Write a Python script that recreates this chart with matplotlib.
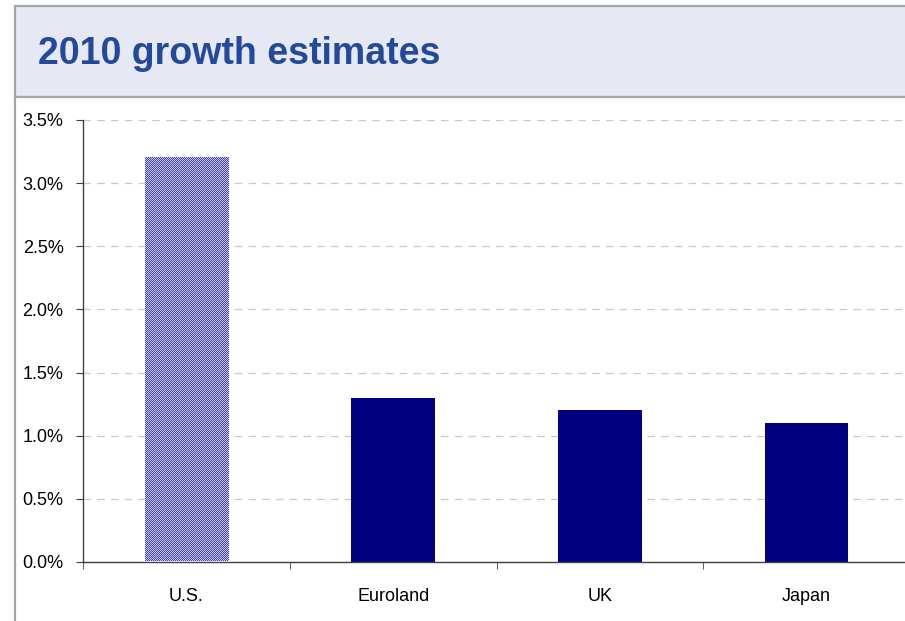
import numpy as np
import matplotlib.pyplot as plt
from matplotlib.patches import Rectangle
from matplotlib.lines import Line2D
from matplotlib.colors import to_rgb
from matplotlib.ticker import FuncFormatter, FixedLocator

# Data
categories = ['U.S.', 'Euroland', 'UK', 'Japan']
growth = [3.21, 1.30, 1.20, 1.10]  # %
yticks = [0.0, 0.5, 1.0, 1.5, 2.0, 2.5, 3.0, 3.5]

W, H = 905, 621
plt.rcParams['font.family'] = ['Liberation Sans', 'DejaVu Sans']
fig = plt.figure(figsize=(W / 100, H / 100), dpi=100)

# Header band
fig.patches.append(Rectangle((15 / W, 1 - 97 / H), 1.0, 91 / H, transform=fig.transFigure,
                             facecolor='#e6e8f4', edgecolor='#a6a6a6', linewidth=1.6))
fig.lines.append(Line2D([15 / W, 15 / W], [0, 1 - 97 / H], transform=fig.transFigure,
                        color='#a6a6a6', linewidth=1.6))
fig.text(38 / W, 1 - 54 / H, '2010 growth estimates', fontsize=27, fontweight='bold',
         color='#22499a', va='center', ha='left')

# Axes
ax = fig.add_axes([83 / W, 59 / H, 827 / W, 442 / H])
x = np.arange(len(categories))
bars = ax.bar(x, growth, width=0.405, color='#000080', zorder=3)
ax.set_xlim(-0.5, len(categories) - 0.5)
ax.set_ylim(0, 3.5)

ax.yaxis.set_major_locator(FixedLocator(yticks))
ax.yaxis.set_major_formatter(FuncFormatter(lambda v, p: f'{v:.1f}%'))
ax.set_xticks(x)
ax.set_xticklabels(categories)
ax.set_xticks(np.arange(len(categories) + 1) - 0.5, minor=True)
ax.tick_params(axis='x', which='major', length=0, pad=19, labelsize=13)
ax.tick_params(axis='x', which='minor', length=5, color='#404040', direction='out')
ax.tick_params(axis='y', length=5, color='#404040', pad=9, labelsize=13)
ax.grid(axis='y', linestyle=(0, (6, 5)), color='#c8c8c8', linewidth=0.9, zorder=0)
for s in ['top', 'right']:
    ax.spines[s].set_visible(False)
for s in ['left', 'bottom']:
    ax.spines[s].set_color('#404040')
    ax.spines[s].set_linewidth(1.0)
    ax.spines[s].set_zorder(4)

# Checkered (dithered) fill for the U.S. bar, placed pixel-exact
us = bars[0]
us.set_facecolor('none')
x0, y0 = ax.transData.transform((us.get_x(), 0))
x1, y1 = ax.transData.transform((us.get_x() + us.get_width(), us.get_height()))
nx, ny = int(round(x1 - x0)), int(round(y1 - y0)) - 1
chk = np.add.outer(np.arange(ny), np.arange(nx)) % 2
dark, light = np.array(to_rgb('#4646ae')), np.array(to_rgb('#c4c4ec'))
rgb = np.where(chk[..., None] == 0, dark, light)
fig.figimage(rgb, xo=int(round(x0)), yo=int(round(y0)) + 1, origin='lower', zorder=1)

fig.savefig('out.png', dpi=100)
